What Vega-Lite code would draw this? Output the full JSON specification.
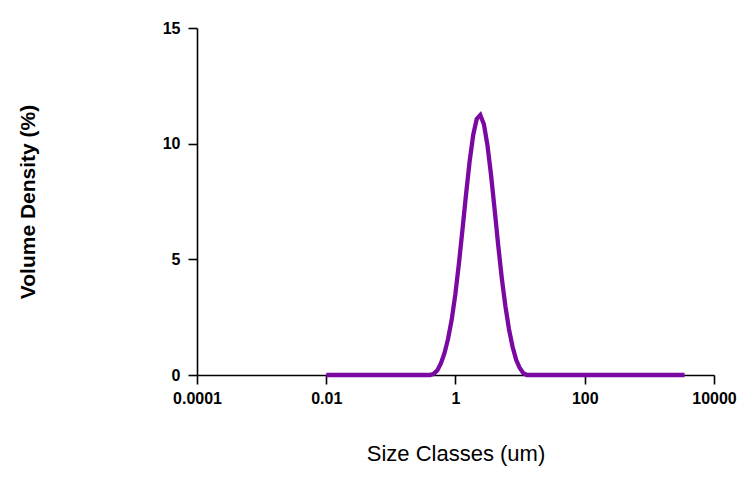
{
  "$schema": "https://vega.github.io/schema/vega-lite/v6.json",
  "autosize": "none",
  "width": 517,
  "height": 347,
  "padding": {"left": 197, "top": 28, "right": 35, "bottom": 104},
  "background": "white",
  "config": {
    "view": {"stroke": null},
    "font": "Liberation Sans",
    "axis": {
      "grid": false,
      "domainColor": "black",
      "domainWidth": 1.6,
      "tickColor": "black",
      "tickWidth": 1.6,
      "tickSize": 9,
      "labelFont": "Liberation Sans",
      "labelFontWeight": "bold",
      "labelFontSize": 16,
      "labelColor": "black",
      "titleFont": "Liberation Sans",
      "titleColor": "black"
    }
  },
  "data": {
    "values": [
      {"size": 0.01, "density": 0},
      {"size": 0.0315, "density": 0},
      {"size": 0.0995, "density": 0},
      {"size": 0.314, "density": 0},
      {"size": 0.405, "density": 0},
      {"size": 0.46, "density": 0.05},
      {"size": 0.523, "density": 0.2},
      {"size": 0.594, "density": 0.5},
      {"size": 0.675, "density": 0.94},
      {"size": 0.767, "density": 1.56},
      {"size": 0.872, "density": 2.38},
      {"size": 0.991, "density": 3.46},
      {"size": 1.13, "density": 4.82},
      {"size": 1.28, "density": 6.27},
      {"size": 1.45, "density": 7.76},
      {"size": 1.65, "density": 9.21},
      {"size": 1.88, "density": 10.38},
      {"size": 2.13, "density": 11.07},
      {"size": 2.42, "density": 11.24},
      {"size": 2.75, "density": 10.84},
      {"size": 3.12, "density": 9.94},
      {"size": 3.55, "density": 8.64},
      {"size": 4.03, "density": 7.16},
      {"size": 4.58, "density": 5.61},
      {"size": 5.21, "density": 4.17},
      {"size": 5.92, "density": 2.97},
      {"size": 6.72, "density": 1.98},
      {"size": 7.64, "density": 1.22},
      {"size": 8.68, "density": 0.66},
      {"size": 9.86, "density": 0.3},
      {"size": 11.2, "density": 0.08},
      {"size": 12.7, "density": 0},
      {"size": 98.1, "density": 0},
      {"size": 976, "density": 0},
      {"size": 3500, "density": 0}
    ]
  },
  "mark": {"type": "line", "color": "#7a08a2", "strokeWidth": 4.3, "strokeJoin": "miter", "clip": false},
  "encoding": {
    "x": {
      "field": "size",
      "type": "quantitative",
      "scale": {"type": "log", "domain": [0.0001, 10000], "nice": false},
      "axis": {
        "values": [0.0001, 0.01, 1, 100, 10000],
        "format": "~g",
        "labelPadding": 6,
        "labelFlush": false,
        "title": "Size Classes (um)",
        "titleFontSize": 22,
        "titleFontWeight": "normal",
        "titlePadding": 37
      }
    },
    "y": {
      "field": "density",
      "type": "quantitative",
      "scale": {"domain": [0, 15], "nice": false},
      "axis": {
        "values": [0, 5, 10, 15],
        "labelPadding": 8,
        "title": "Volume Density (%)",
        "titleFontSize": 21,
        "titleFontWeight": "bold",
        "titlePadding": 124
      }
    }
  }
}
